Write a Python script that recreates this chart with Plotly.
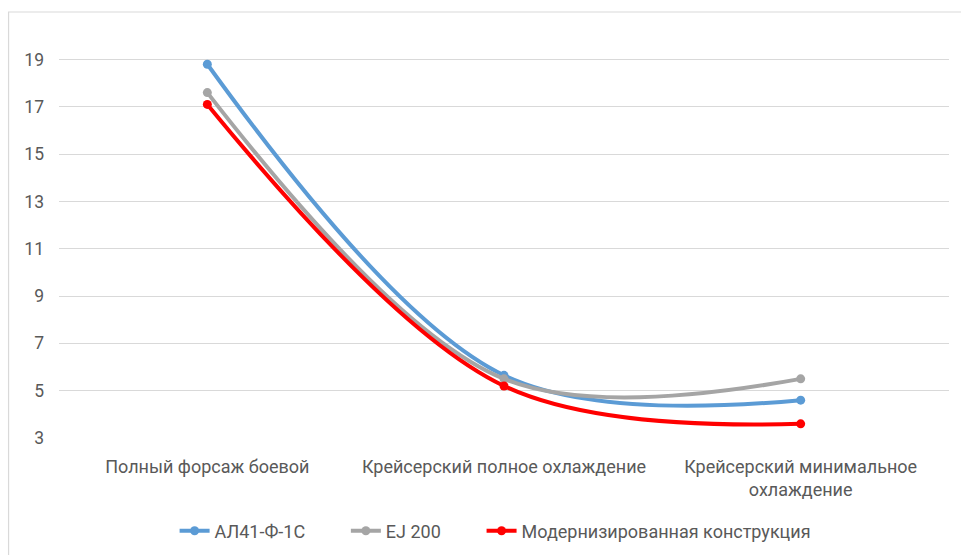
import plotly.graph_objects as go

categories = ["Полный форсаж боевой", "Крейсерский полное охлаждение", "Крейсерский минимальное<br>охлаждение"]
al41 = [18.8, 5.65, 4.6]
ej200 = [17.6, 5.5, 5.5]
modern = [17.1, 5.2, 3.6]
y_ticks = [3, 5, 7, 9, 11, 13, 15, 17, 19]

NB = "\u00a0" * 8
series = [
    ("АЛ41-Ф-1С" + NB, al41, "#5B9BD5"),
    ("EJ 200" + NB, ej200, "#A5A5A5"),
    ("Модернизированная конструкция", modern, "#FF0000"),
]

FONT = "Roboto, sans-serif"

fig = go.Figure()
for name, vals, col in series:
    fig.add_trace(go.Scatter(
        x=[0, 1, 2], y=vals, name=name, mode="lines+markers",
        line=dict(color=col, width=4, shape="spline", smoothing=1.0),
        marker=dict(color=col, size=9),
    ))

W, H = 961, 555
L, R, T, B = 58.5, 11.5, 24, 117
pw, ph = W - L - R, H - T - B

def px_to_paper_x(px):
    return (px - L) / pw

def px_to_paper_y(py):
    return (H - B - py) / ph

fig.add_shape(type="rect", xref="paper", yref="paper",
              x0=px_to_paper_x(8), x1=px_to_paper_x(990),
              y0=px_to_paper_y(590), y1=px_to_paper_y(12),
              line=dict(color="#D9D9D9", width=1.2), layer="below")

fig.update_layout(
    width=W, height=H,
    margin=dict(l=L, r=R, t=T, b=B, autoexpand=False),
    paper_bgcolor="white", plot_bgcolor="white",
    font=dict(family=FONT, size=18, color="#595959"),
    xaxis=dict(range=[-0.5, 2.5], tickmode="array", tickvals=[0, 1, 2],
               ticktext=categories, showgrid=False, zeroline=False,
               showline=False, ticks="", ticklabelstandoff=16, automargin=False,
               tickfont=dict(size=18, color="#595959")),
    yaxis=dict(range=[3, 20.5], tickmode="array", tickvals=y_ticks,
               showgrid=True, gridcolor="#D9D9D9", gridwidth=1, automargin=False,
               zeroline=False, showline=False, ticks="", ticklabelstandoff=14,
               tickfont=dict(size=17.5, color="#595959")),
    legend=dict(orientation="h", x=0.49, xanchor="center",
                y=px_to_paper_y(531), yanchor="middle",
                font=dict(size=18, color="#595959"),
                bgcolor="rgba(0,0,0,0)"),
    showlegend=True,
)

fig.write_html("out.html")
